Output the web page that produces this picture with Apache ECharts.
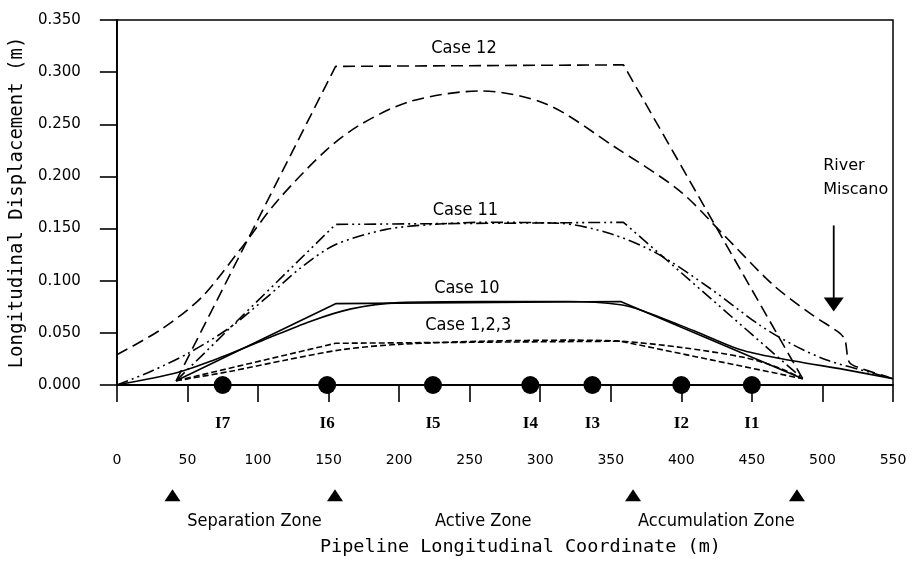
<!DOCTYPE html>
<html>
<head>
<meta charset="utf-8">
<script src="https://cdn.jsdelivr.net/npm/echarts@6/dist/echarts.min.js"></script>
<style>html,body{margin:0;padding:0;background:#fff}#c{width:916px;height:562px}</style>
</head>
<body>
<div id="c"></div>
<script>
// ---- data ----
const xTicks = [0, 50, 100, 150, 200, 250, 300, 350, 400, 450, 500, 550];
const yTicks = [0, 0.05, 0.10, 0.15, 0.20, 0.25, 0.30, 0.35];

// trapezoidal (simplified) profiles
const case12TrapX = [42, 155, 359, 486];
const case12TrapY = [0.004, 0.3055, 0.307, 0.006];
const case11TrapX = [42, 155, 359, 486];
const case11TrapY = [0.004, 0.154, 0.156, 0.006];
const case10TrapX = [42, 155, 357, 486];
const case10TrapY = [0.004, 0.078, 0.080, 0.006];
const case123TrapX = [42, 155, 357, 486];
const case123TrapY = [0.004, 0.040, 0.042, 0.006];

// computed (curved) profiles
const case12CurveX = [0, 31, 60, 88, 114, 149, 173, 208, 258, 305, 352, 399, 430, 465, 493, 512, 516, 519, 527, 546, 550];
const case12CurveY = [0.029, 0.053, 0.084, 0.131, 0.177, 0.226, 0.250, 0.272, 0.282, 0.269, 0.229, 0.186, 0.144, 0.096, 0.067, 0.050, 0.043, 0.022, 0.016, 0.008, 0.006];
const case11CurveX = [0, 24, 50, 80, 107, 130, 154, 190, 224, 260, 314, 350, 383, 420, 456, 480, 503, 534, 550];
const case11CurveY = [0, 0.013, 0.030, 0.055, 0.085, 0.112, 0.134, 0.149, 0.154, 0.156, 0.155, 0.145, 0.126, 0.093, 0.057, 0.038, 0.024, 0.012, 0.006];
const case10CurveX = [0, 43, 67, 102, 137, 166, 200, 260, 320, 357, 373, 409, 444, 480, 515, 550];
const case10CurveY = [0, 0.012, 0.023, 0.042, 0.061, 0.073, 0.079, 0.080, 0.080, 0.077, 0.071, 0.052, 0.033, 0.023, 0.015, 0.006];
const case123CurveX = [42, 80, 120, 160, 200, 260, 320, 357, 400, 446, 470, 486];
const case123CurveY = [0.004, 0.013, 0.024, 0.034, 0.039, 0.042, 0.043, 0.042, 0.036, 0.026, 0.016, 0.006];

// inclinometers
const inclX = [75, 149, 224, 293, 337, 400, 450];
const inclNames = ['I7', 'I6', 'I5', 'I4', 'I3', 'I2', 'I1'];

// zones
const zoneBoundX = [40, 155, 366, 482];
const zoneNames = ['Separation Zone', 'Active Zone', 'Accumulation Zone'];
const zoneLabelX = [98, 260, 425];

// case labels
const caseNames = ['Case 12', 'Case 11', 'Case 10', 'Case 1,2,3'];
const caseLabelX = [246, 247, 248, 249];
const caseLabelY = [0.323, 0.1675, 0.093, 0.0568];

// river marker
const riverName = 'River\nMiscano';
const riverLabelX = 500.5;
const riverLabelY = 0.2215;
const riverArrowX = [508, 508];
const riverArrowY = [0.153, 0.080];
const riverHeadY = 0.0773;

// ---- build ----
const zip = (xs, ys) => xs.map((x, i) => [x, ys[i]]);
const BLACK = '#000';
const dash12 = [12, 6];
const dash11 = [12, 4, 2, 4, 2, 4];
const dash123 = [6, 3];
const LW = 1.6;

function lineSeries(xs, ys, type, smooth) {
  return {
    type: 'line', xAxisIndex: 0, yAxisIndex: 0,
    data: zip(xs, ys), showSymbol: false, symbol: 'none',
    smooth: smooth ? 0.3 : false,
    lineStyle: { color: BLACK, width: LW, type: type, opacity: 1 },
    silent: true, z: 3
  };
}

const condensed = '"DejaVu Sans Condensed", "DejaVu Sans", sans-serif';
const solidItem = { color: BLACK, opacity: 1 };

const option = {
  animation: false,
  backgroundColor: '#fff',
  grid: [
    { left: 116, right: 23, top: 20, bottom: 174, show: true, borderColor: BLACK, borderWidth: 1.5, backgroundColor: 'transparent' },
    { left: 116, right: 23, top: 470, height: 60, show: false }
  ],
  xAxis: [
    {
      type: 'value', gridIndex: 0, min: 0, max: 550, interval: 50,
      axisLine: { show: true, onZero: false, lineStyle: { color: BLACK, width: 1.8 } },
      axisTick: { show: true, inside: false, length: 17, lineStyle: { color: BLACK, width: 1.6 } },
      axisLabel: { show: true, margin: 68, color: BLACK, fontSize: 14, fontFamily: '"DejaVu Sans", sans-serif',
        customValues: xTicks, formatter: v => String(v) },
      splitLine: { show: false },
      name: 'Pipeline Longitudinal Coordinate (m)', nameLocation: 'middle', nameGap: 153,
      nameTextStyle: { color: BLACK, fontSize: 18.5, fontFamily: '"DejaVu Sans Mono", monospace', padding: [0, 0, 0, 31] }
    },
    { type: 'value', gridIndex: 1, min: 0, max: 550, show: false }
  ],
  yAxis: [
    {
      type: 'value', gridIndex: 0, min: 0, max: 0.35, interval: 0.05,
      axisLine: { show: true, onZero: false, lineStyle: { color: BLACK, width: 1.8 } },
      axisTick: { show: true, inside: false, length: 17, lineStyle: { color: BLACK, width: 1.6 } },
      axisLabel: { show: true, margin: 36, color: BLACK, fontSize: 15, fontFamily: '"DejaVu Sans", sans-serif',
        customValues: yTicks, formatter: v => v.toFixed(3) },
      splitLine: { show: false },
      name: 'Longitudinal Displacement (m)', nameLocation: 'middle', nameGap: 83, nameRotate: 90,
      nameTextStyle: { color: BLACK, fontSize: 19, fontFamily: '"DejaVu Sans Mono", monospace' }
    },
    { type: 'value', gridIndex: 1, min: 0, max: 1, show: false }
  ],
  series: [
    lineSeries(case12TrapX, case12TrapY, dash12, false),
    lineSeries(case12CurveX, case12CurveY, dash12, true),
    lineSeries(case11TrapX, case11TrapY, dash11, false),
    lineSeries(case11CurveX, case11CurveY, dash11, true),
    lineSeries(case10TrapX, case10TrapY, 'solid', false),
    lineSeries(case10CurveX, case10CurveY, 'solid', true),
    lineSeries(case123TrapX, case123TrapY, dash123, false),
    lineSeries(case123CurveX, case123CurveY, dash123, true),
    // inclinometers
    {
      type: 'scatter', xAxisIndex: 0, yAxisIndex: 0, clip: false, silent: true, z: 5,
      data: inclX.map((x, i) => ({ value: [x, 0], name: inclNames[i] })),
      symbol: 'circle', symbolSize: 18, itemStyle: solidItem,
      label: { show: true, position: 'bottom', distance: 21, formatter: p => p.name, color: BLACK, opacity: 1,
        fontSize: 17, fontWeight: 'bold', fontFamily: '"Liberation Serif", serif' }
    },
    // case labels
    {
      type: 'scatter', xAxisIndex: 0, yAxisIndex: 0, clip: false, silent: true, z: 6,
      data: caseLabelX.map((x, i) => ({ value: [x, caseLabelY[i]], name: caseNames[i] })),
      symbolSize: 0, itemStyle: solidItem,
      label: { show: true, position: 'inside', formatter: p => p.name, color: BLACK, opacity: 1, fontSize: 18, fontFamily: condensed }
    },
    // river label
    {
      type: 'scatter', xAxisIndex: 0, yAxisIndex: 0, clip: false, silent: true, z: 6,
      data: [{ value: [riverLabelX, riverLabelY], name: riverName }],
      symbolSize: 0, itemStyle: solidItem,
      label: { show: true, position: [0, 0], align: 'left', verticalAlign: 'top', formatter: p => p.name,
        color: BLACK, opacity: 1, fontSize: 16, lineHeight: 24, fontFamily: '"DejaVu Sans", sans-serif' }
    },
    // river arrow shaft
    {
      type: 'line', xAxisIndex: 0, yAxisIndex: 0, silent: true, symbol: 'none', showSymbol: false,
      data: zip(riverArrowX, riverArrowY), lineStyle: { color: BLACK, width: 1.8, opacity: 1 }
    },
    // river arrow head
    {
      type: 'scatter', xAxisIndex: 0, yAxisIndex: 0, clip: false, silent: true,
      data: [[riverArrowX[1], riverHeadY]], symbol: 'triangle', symbolRotate: 180, symbolSize: [20, 14],
      itemStyle: solidItem
    },
    // zone boundary triangles
    {
      type: 'scatter', xAxisIndex: 1, yAxisIndex: 1, clip: false, silent: true,
      data: zoneBoundX.map(x => [x, 0.58]), symbol: 'triangle', symbolSize: [16, 12],
      itemStyle: solidItem
    },
    // zone labels
    {
      type: 'scatter', xAxisIndex: 1, yAxisIndex: 1, clip: false, silent: true,
      data: zoneLabelX.map((x, i) => ({ value: [x, 0.15], name: zoneNames[i] })),
      symbolSize: 0, itemStyle: solidItem,
      label: { show: true, position: 'inside', formatter: p => p.name, color: BLACK, opacity: 1, fontSize: 18, fontFamily: condensed }
    }
  ]
};

const chart = echarts.init(document.getElementById('c'), null, { renderer: 'canvas' });
chart.setOption(option);
</script>
</body>
</html>
